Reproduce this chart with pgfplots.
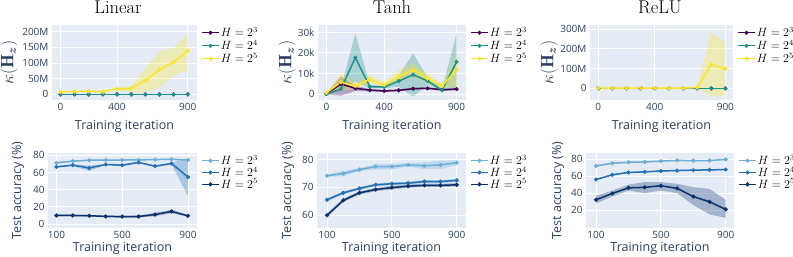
\documentclass[border=0pt]{standalone}
\usepackage{pgfplots}
\pgfplotsset{compat=1.18}
\usepackage{amsmath}
\usepackage{fontspec}
\newfontfamily\pf{Open Sans}
\definecolor{bgc}{HTML}{E5ECF6}
\definecolor{txt}{HTML}{2A3F5F}
\definecolor{vpur}{HTML}{440154}
\definecolor{vteal}{HTML}{21918C}
\definecolor{vyel}{HTML}{FDE725}
\definecolor{blA}{HTML}{6BAED6}
\definecolor{blB}{HTML}{2171B5}
\definecolor{blC}{HTML}{08306B}
\pgfplotsset{
  pstyle/.style={
    scale only axis, height=75pt,
    axis background/.style={fill=bgc},
    axis line style={draw=none},
    major tick length=0pt,
    grid=major, major grid style={white, line width=0.9pt},
    /pgf/number format/assume math mode=true,
    ticklabel style={font=\pf\fontsize{10}{12}\selectfont, color=txt},
    xlabel={Training iteration},
    label style={font=\pf\fontsize{12.5}{14}\selectfont, color=txt},
    legend style={draw=none, fill=none, anchor=north west, inner sep=0pt,
      font=\fontsize{12}{14}\selectfont, nodes={inner sep=1pt}},
    legend cell align=left,
    every axis plot/.append style={line width=1.5pt, mark=*, mark size=1.9pt, mark options={solid, line width=0.4pt}},
  },
  band/.style={draw=none, fill=#1, fill opacity=0.3, mark=none, forget plot},
  toprow/.style={pstyle, xtick={0,400,900},
    xlabel style={at={([yshift=-26pt]axis description cs:0.5,0)}, anchor=center},
    ylabel={$\kappa(\mathbf{H}_{\boldsymbol{z}})$},
    ylabel style={font=\fontsize{18}{20}\selectfont, color=txt},
    legend style={at={([xshift=4pt,yshift=-1pt]axis description cs:1,1)}, row sep=0pt}},
  botrow/.style={pstyle, xtick={100,500,900},
    xlabel style={at={([yshift=-20pt]axis description cs:0.5,0)}, anchor=center},
    ylabel={Test accuracy (\%)},
    legend style={at={([xshift=4pt,yshift=-1pt]axis description cs:1,1)}, row sep=-1.2pt}},
}
\begin{document}
\begin{tikzpicture}
\path[use as bounding box] (0pt,0pt) rectangle (793pt,257pt);
% titles
\node[anchor=base, font=\fontsize{18.5}{20}\selectfont] at (118pt,243.5pt) {Linear};
\node[anchor=base, font=\fontsize{18.5}{20}\selectfont] at (392pt,243.5pt) {Tanh};
\node[anchor=base, font=\fontsize{18.5}{20}\selectfont] at (660pt,243.5pt) {ReLU};

% ---------- Top Linear ----------
\begin{axis}[toprow, width=145pt, at={(52pt,157pt)}, anchor=south west,
  xmin=-60, xmax=965, ymin=-18, ymax=221,
  ytick={0,50,100,150,200}, yticklabels={0,50M,100M,150M,200M},
  ylabel style={at={([xshift=-43pt]axis description cs:0,0.5)}, anchor=center}]
\addplot[band=vyel] coordinates {(0,9)(100,10.5)(200,11)(300,10)(400,20)(500,26)(600,84)(700,137)(800,147)(900,195)
 (900,77)(800,60)(700,21)(600,8)(500,5)(400,15)(300,7)(200,8)(100,7.5)(0,6)};
\addplot[color=vpur] coordinates {(0,0)(100,0)(200,0)(300,0)(400,0)(500,0)(600,0)(700,0)(800,0)(900,0)};
\addlegendentry{$H=2^3$}
\addplot[color=vteal] coordinates {(0,0)(100,0)(200,0)(300,0)(400,0)(500,0)(600,0)(700,0)(800,0)(900,0)};
\addlegendentry{$H=2^4$}
\addplot[color=vyel] coordinates {(0,7.4)(100,9)(200,9.5)(300,8.5)(400,18)(500,19)(600,44)(700,79)(800,103)(900,139)};
\addlegendentry{$H=2^5$}
\end{axis}

% ---------- Top Tanh ----------
\begin{axis}[toprow, width=148pt, at={(318pt,157pt)}, anchor=south west,
  xmin=-58, xmax=965, ymin=-2.9, ymax=33.6,
  ytick={0,10,20,30}, yticklabels={0,10k,20k,30k},
  ylabel style={at={([xshift=-31pt]axis description cs:0,0.5)}, anchor=center}]
\addplot[band=vpur] coordinates {(0,0.3)(100,8.5)(200,4)(300,2.5)(400,2)(500,2.3)(600,3.2)(700,3.3)(800,2.6)(900,2.8)
 (900,2)(800,1.6)(700,2.3)(600,2)(500,1.3)(400,1)(300,1.3)(200,1.5)(100,-0.8)(0,-0.1)};
\addplot[band=vteal] coordinates {(0,0.2)(100,3)(200,29.5)(300,4.5)(400,4)(500,9)(600,19.8)(700,8)(800,2.5)(900,29.5)
 (900,2)(800,1.3)(700,4.5)(600,-1.3)(500,3.6)(400,2.8)(300,2.7)(200,6)(100,1.8)(0,-0.2)};
\addplot[band=vyel] coordinates {(0,0.8)(100,10)(200,5.5)(300,9.2)(400,6)(500,11.7)(600,14.9)(700,10)(800,5)(900,20)
 (900,3.6)(800,2.5)(700,5)(600,8.4)(500,6)(400,2.8)(300,5.2)(200,2.3)(100,2)(0,0.4)};
\addplot[color=vpur] coordinates {(0,0.1)(100,4.9)(200,2.8)(300,1.9)(400,1.5)(500,1.8)(600,2.6)(700,2.8)(800,2.1)(900,2.4)};
\addlegendentry{$H=2^3$}
\addplot[color=vteal] coordinates {(0,0)(100,2.4)(200,17.7)(300,3.6)(400,3.4)(500,6.3)(600,9.4)(700,6.3)(800,1.9)(900,15.7)};
\addlegendentry{$H=2^4$}
\addplot[color=vyel] coordinates {(0,0.6)(100,5.7)(200,3.9)(300,7.1)(400,4.4)(500,8.4)(600,11.7)(700,7.5)(800,3.9)(900,12)};
\addlegendentry{$H=2^5$}
\end{axis}

% ---------- Top ReLU ----------
\begin{axis}[toprow, width=143pt, at={(590pt,157pt)}, anchor=south west,
  xmin=-59, xmax=954, ymin=-59, ymax=320,
  ytick={0,100,200,300}, yticklabels={0,100M,200M,300M},
  ylabel style={at={([xshift=-41pt]axis description cs:0,0.5)}, anchor=center}]
\addplot[band=vyel] coordinates {(0,1)(100,1)(200,1)(300,1)(400,1)(500,1)(600,2)(700,8)(800,283)(900,234)
 (900,-37)(800,-42)(700,1)(600,0)(500,0)(400,0)(300,0)(200,0)(100,0)(0,0)};
\addplot[color=vpur] coordinates {(0,0)(100,0)(200,0)(300,0)(400,0)(500,0)(600,0)(700,0)(800,0)(900,0)};
\addlegendentry{$H=2^3$}
\addplot[color=vteal] coordinates {(0,0)(100,0)(200,0)(300,0)(400,0)(500,0)(600,0)(700,0)(800,0)(900,0)};
\addlegendentry{$H=2^4$}
\addplot[color=vyel] coordinates {(0,0.5)(100,0.5)(200,0.5)(300,0.5)(400,0.5)(500,0.5)(600,1)(700,4)(800,121)(900,98)};
\addlegendentry{$H=2^5$}
\end{axis}

% ---------- Bottom Linear ----------
\begin{axis}[botrow, width=149pt, at={(48pt,29pt)}, anchor=south west,
  xmin=49, xmax=955, ymin=-4.7, ymax=82.7,
  ytick={0,20,40,60,80},
  ylabel style={at={([xshift=-30pt]axis description cs:0,0.5)}, anchor=center}]
\addplot[band=blA] coordinates {(100,71.9)(200,73.9)(300,75)(400,75.2)(500,75.2)(600,75.4)(700,75.7)(800,76.1)(900,75.3)
 (900,73.7)(800,74.7)(700,74.3)(600,74)(500,73.8)(400,73.8)(300,73.6)(200,72.5)(100,70.5)};
\addplot[band=blB] coordinates {(100,67.5)(200,69.5)(300,68)(400,70)(500,69.5)(600,72.3)(700,68.3)(800,71.5)(900,76)
 (900,32.5)(800,69.5)(700,66.3)(600,71)(500,67.5)(400,68.5)(300,61.8)(200,67.5)(100,65.5)};
\addplot[band=blC] coordinates {(100,10.9)(200,10.9)(300,10.6)(400,9.8)(500,9.8)(600,9.9)(700,13)(800,16.6)(900,10.5)
 (900,8.5)(800,12.6)(700,9)(600,7.5)(500,7.4)(400,7.8)(300,8.6)(200,8.9)(100,8.9)};
\addplot[color=blA] coordinates {(100,71.2)(200,73.2)(300,74.3)(400,74.5)(500,74.5)(600,74.7)(700,75)(800,75.4)(900,74.5)};
\addlegendentry{$H=2^3$}
\addplot[color=blB] coordinates {(100,66.5)(200,68.5)(300,65.3)(400,69.3)(500,68.5)(600,71.7)(700,67.3)(800,70.5)(900,54.7)};
\addlegendentry{$H=2^4$}
\addplot[color=blC] coordinates {(100,9.9)(200,9.9)(300,9.6)(400,8.8)(500,8.6)(600,8.7)(700,11)(800,14.6)(900,9.5)};
\addlegendentry{$H=2^5$}
\end{axis}

% ---------- Bottom Tanh ----------
\begin{axis}[botrow, width=149pt, at={(317pt,29pt)}, anchor=south west,
  xmin=38, xmax=957, ymin=55.3, ymax=82.4,
  ytick={60,70,80},
  ylabel style={at={([xshift=-29pt]axis description cs:0,0.5)}, anchor=center}]
\addplot[band=blA] coordinates {(100,74.6)(200,76)(300,77)(400,78.5)(500,78.5)(600,78.8)(700,79)(800,79.6)(900,79.8)
 (900,78)(800,76.6)(700,76.6)(600,77.4)(500,76.5)(400,76.5)(300,75.8)(200,74)(100,73.8)};
\addplot[band=blB] coordinates {(100,66)(200,68.5)(300,70.1)(400,71.4)(500,71.8)(600,72)(700,72.6)(800,72.6)(900,73)
 (900,72)(800,71.6)(700,71.6)(600,71)(500,70.8)(400,70.4)(300,69.1)(200,67.5)(100,65)};
\addplot[band=blC] coordinates {(100,60.5)(200,65.9)(300,68.6)(400,69.8)(500,70.5)(600,71)(700,71.3)(800,71.3)(900,71.5)
 (900,70.3)(800,70.1)(700,70.1)(600,69.8)(500,69.3)(400,68.6)(300,67.4)(200,64.7)(100,59.3)};
\addplot[color=blA] coordinates {(100,74.2)(200,75)(300,76.4)(400,77.5)(500,77.5)(600,78.1)(700,77.8)(800,78.1)(900,78.9)};
\addlegendentry{$H=2^3$}
\addplot[color=blB] coordinates {(100,65.5)(200,68)(300,69.6)(400,70.9)(500,71.3)(600,71.5)(700,72.1)(800,72.1)(900,72.5)};
\addlegendentry{$H=2^4$}
\addplot[color=blC] coordinates {(100,59.9)(200,65.3)(300,68)(400,69.2)(500,69.9)(600,70.4)(700,70.7)(800,70.7)(900,70.9)};
\addlegendentry{$H=2^5$}
\end{axis}

% ---------- Bottom ReLU ----------
\begin{axis}[botrow, width=148pt, at={(586pt,29pt)}, anchor=south west,
  xmin=38, xmax=951, ymin=-0.9, ymax=87.1,
  ytick={20,40,60,80},
  ylabel style={at={([xshift=-28pt]axis description cs:0,0.5)}, anchor=center}]
\addplot[band=blA] coordinates {(100,72.6)(200,75.6)(300,76.8)(400,77.2)(500,78.2)(600,79)(700,78.8)(800,78.8)(900,80.2)
 (900,79)(800,77.6)(700,77.6)(600,77.8)(500,77)(400,76)(300,75.6)(200,74.4)(100,71.4)};
\addplot[band=blB] coordinates {(100,56.8)(200,62.2)(300,65)(400,65.7)(500,66.7)(600,67.2)(700,67.7)(800,68)(900,68.4)
 (900,67)(800,66.6)(700,66.3)(600,65.8)(500,65.3)(400,64.3)(300,63.6)(200,60.8)(100,55.2)};
\addplot[band=blC] coordinates {(100,37)(200,43)(300,50)(400,53)(500,53)(600,51)(700,47)(800,45)(900,32)
 (900,11)(800,15)(700,26)(600,40)(500,43)(400,40)(300,43)(200,36)(100,28)};
\addplot[color=blA] coordinates {(100,72)(200,75)(300,76.2)(400,76.6)(500,77.6)(600,78.4)(700,78.2)(800,78.2)(900,79.6)};
\addlegendentry{$H=2^3$}
\addplot[color=blB] coordinates {(100,56)(200,61.5)(300,64.3)(400,65)(500,66)(600,66.5)(700,67)(800,67.3)(900,67.7)};
\addlegendentry{$H=2^4$}
\addplot[color=blC] coordinates {(100,32.3)(200,39.6)(300,46.2)(400,46.8)(500,48.7)(600,45.6)(700,36)(800,29.8)(900,21)};
\addlegendentry{$H=2^5$}
\end{axis}
\end{tikzpicture}
\end{document}
